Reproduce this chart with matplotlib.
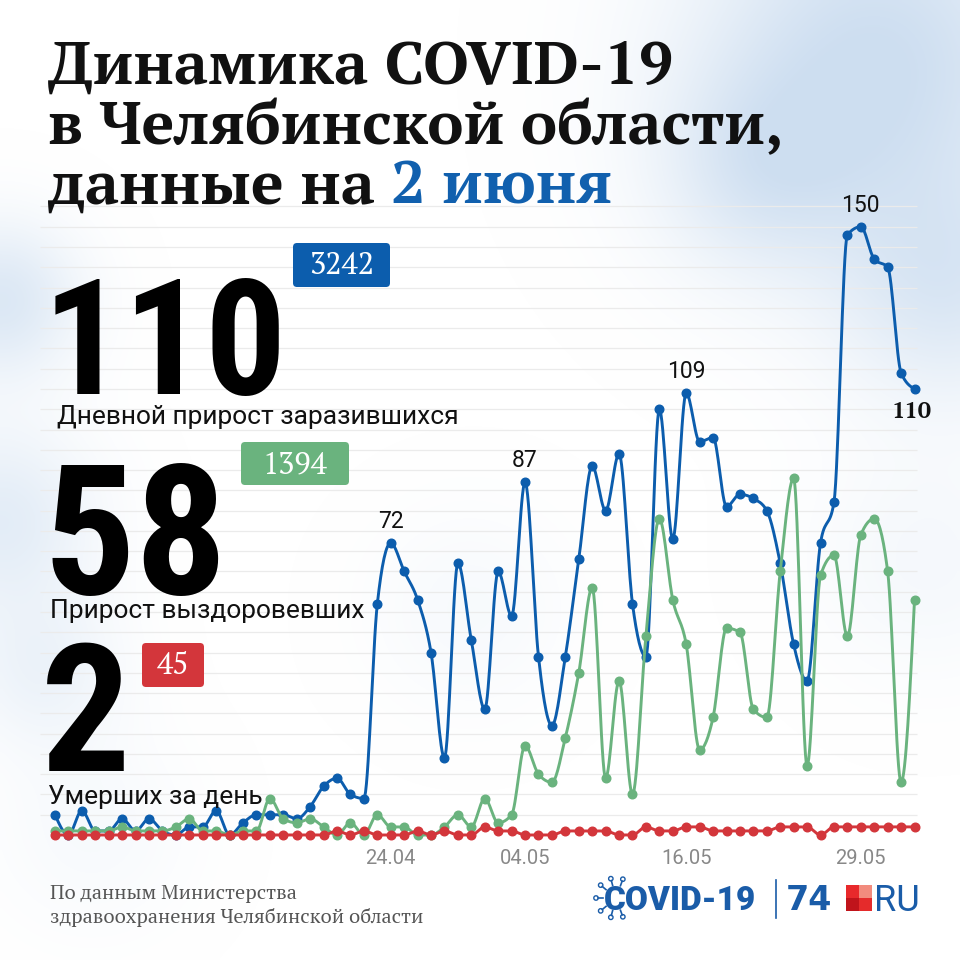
"""Daily COVID-19 dynamics in Chelyabinsk region, state on 2 June"""

import matplotlib
matplotlib.use("Agg")
import matplotlib.pyplot as plt
import matplotlib.patches as mpatches
import numpy as np
import pandas as pd

# Days from 30.03 to 02.06
dates = pd.date_range("2020-03-30", "2020-06-02", freq="D")
tick_labels = ["24.04", "04.05", "16.05", "29.05"]

infected = [5, 0, 6, 1, 1, 4, 1, 4, 1, 0, 2, 2, 6, 0, 3, 5, 5, 5, 4, 7,
            12, 14, 10, 9, 57, 72, 65, 58, 45, 19, 67, 48, 31, 65, 54, 87, 44, 27, 44, 68,
            91, 80, 94, 57, 44, 105, 73, 109, 97, 98, 81, 84, 83, 80, 67, 47, 38, 72, 82, 148,
            150, 142, 140, 114, 110]
recovered = [1, 1, 1, 1, 1, 2, 1, 1, 1, 2, 4, 1, 1, 0, 1, 1, 9, 4, 3, 4,
             2, 0, 3, 0, 5, 2, 2, 0, 0, 2, 5, 2, 9, 3, 5, 22, 15, 13, 24, 40,
             61, 14, 38, 10, 49, 78, 58, 47, 21, 29, 51, 50, 31, 29, 65, 88, 17, 64, 69, 49,
             74, 78, 65, 13, 58]
deaths = [0, 0, 0, 0, 0, 0, 0, 0, 0, 0, 0, 0, 0, 0, 0, 0, 0, 0, 0, 0,
          0, 1, 0, 1, 0, 0, 0, 1, 0, 1, 0, 0, 2, 1, 1, 0, 0, 0, 1, 1,
          1, 1, 0, 0, 2, 1, 1, 2, 2, 1, 1, 1, 1, 1, 2, 2, 2, 0, 2, 2,
          2, 2, 2, 2, 2]

peak_labels = {"24.04": "72", "04.05": "87", "16.05": "109", "29.05": "150"}
totals = {"infected": "3242", "recovered": "1394", "deaths": "45"}

BLUE = "#0c5dad"
GREEN = "#6ab37e"
RED = "#d3363b"

SLAB = ["PT Serif", "DejaVu Serif"]
SANS = ["Roboto", "DejaVu Sans"]
COND = ["Roboto Condensed", "DejaVu Sans"]

# pixel geometry of the chart (x of first day, px per day, y of zero, px per unit)
X0, DX, Y0, DY = 55, 13.43, 835, 4.055


def monotone(y, n=16):
    """Monotone cubic curve through the points (like d3.curveMonotoneX)"""
    y = np.asarray(y, dtype=float)
    d = np.diff(y)
    m = np.zeros_like(y)
    for k in range(1, len(y) - 1):
        s0, s1 = d[k - 1], d[k]
        p = (s0 + s1) / 2
        m[k] = (np.sign(s0) + np.sign(s1)) * min(abs(s0), abs(s1), 0.5 * abs(p))
    m[0] = (3 * d[0] - m[1]) / 2
    m[-1] = (3 * d[-1] - m[-2]) / 2
    xs, ys = [], []
    t = np.linspace(0, 1, n, endpoint=False)
    h00 = 2 * t**3 - 3 * t**2 + 1
    h10 = t**3 - 2 * t**2 + t
    h01 = -2 * t**3 + 3 * t**2
    h11 = t**3 - t**2
    for k in range(len(y) - 1):
        xs.append(k + t)
        ys.append(h00 * y[k] + h10 * m[k] + h01 * y[k + 1] + h11 * m[k + 1])
    xs.append([len(y) - 1])
    ys.append([y[-1]])
    return np.concatenate(xs), np.concatenate(ys)


fig = plt.figure(figsize=(9.6, 9.6), dpi=100, facecolor="white")

# soft light-blue clouds in the background
bg = fig.add_axes([0, 0, 1, 1], zorder=0)
gx, gy = np.meshgrid(np.linspace(0, 960, 240), np.linspace(0, 960, 240))
blobs = [(880, 60, 130, 1.0), (760, 170, 70, 0.5), (950, 290, 80, 0.6),
         (0, 300, 55, 0.7), (0, 520, 65, 0.55), (40, 670, 55, 0.35),
         (470, 610, 70, 0.15), (930, 560, 80, 0.2), (90, 830, 70, 0.15)]
field = np.zeros_like(gx)
for cx, cy, s, a in blobs:
    field += a * np.exp(-((gx - cx) ** 2 + (gy - cy) ** 2) / (2 * s**2))
field = np.clip(field, 0, 1)
rgba = np.zeros(gx.shape + (4,))
rgba[..., 0], rgba[..., 1], rgba[..., 2] = 0.76, 0.84, 0.93
rgba[..., 3] = 0.8 * field
bg.imshow(rgba, extent=(0, 960, 960, 0), interpolation="bilinear")
bg.set_xlim(0, 960)
bg.set_ylim(960, 0)
bg.axis("off")

# chart
ax = fig.add_axes([0, 0, 1, 1], zorder=1)
ax.patch.set_alpha(0)
ax.set_xlim(-X0 / DX, (960 - X0) / DX)
ax.set_ylim((Y0 - 960) / DY, Y0 / DY)
ax.axis("off")

days = np.arange(len(dates))
ax.hlines(np.arange(5, 160, 5), -1.1, len(dates) - 0.8, color="#ebebeb", lw=0.9, zorder=1)

for values, color, z in [(infected, BLUE, 3), (recovered, GREEN, 4), (deaths, RED, 5)]:
    cx, cy = monotone(values)
    ax.plot(cx, cy, color=color, lw=2.1, zorder=z, solid_capstyle="round")
    ax.plot(days, values, "o", color=color, ms=6.2, zorder=z)

labels = dates.strftime("%d.%m")
for lab in tick_labels:
    k = list(labels).index(lab)
    ax.text(k, (Y0 - 858) / DY, lab, ha="center", va="center", fontsize=14.5,
            color="#888888", family=SANS)
    ax.annotate(peak_labels[lab], (k, infected[k]), xytext=(0, 15.5), textcoords="offset points",
                ha="center", va="center", fontsize=16.5, color="#111111", family=SANS)
ax.annotate(str(infected[-1]), (days[-1], infected[-1]), xytext=(-2, -16.5),
            textcoords="offset points", ha="center", va="center", fontsize=17,
            weight="bold", color="#111111", family=SLAB)

# texts and badges in pixel coordinates
ov = fig.add_axes([0, 0, 1, 1], zorder=2)
ov.patch.set_alpha(0)
ov.set_xlim(0, 960)
ov.set_ylim(960, 0)
ov.axis("off")

title_kw = dict(fontsize=44, weight="bold", family=SLAB, color="#111111", va="baseline")
ov.text(48, 84, "Динамика COVID-19", **title_kw)
ov.text(48, 144, "в Челябинской области,", **title_kw)
t3 = ov.text(48, 204, "данные на ", **title_kw)
ov.annotate("2 июня", xy=(1, 0), xycoords=t3, va="bottom", ha="left", fontsize=44,
            weight="bold", family=SLAB, color="#1160ae")

big_kw = dict(weight="bold", family=COND, color="#000000", va="baseline")
ov.text(43, 394, str(infected[-1]), fontsize=116, **big_kw)
ov.text(43, 594, str(recovered[-1]), fontsize=131, **big_kw)
ov.text(41, 771, str(deaths[-1]), fontsize=128, **big_kw)

lab_kw = dict(fontsize=19, family=SANS, color="#111111", va="baseline")
ov.text(57, 424, "Дневной прирост заразившихся", **lab_kw)
ov.text(50, 618, "Прирост выздоровевших", **lab_kw)
ov.text(48, 804, "Умерших за день", **lab_kw)

for (x0, y0, x1, y1), color, key in [((293, 243, 390, 287), BLUE, "infected"),
                                      ((241, 442, 349, 485), GREEN, "recovered"),
                                      ((142, 643, 204, 687), RED, "deaths")]:
    ov.add_patch(mpatches.FancyBboxPatch((x0, y0), x1 - x0, y1 - y0,
                                         boxstyle="round,pad=0,rounding_size=4",
                                         fc=color, ec="none"))
    ov.text((x0 + x1) / 2, (y0 + y1) / 2 + 1, totals[key], ha="center", va="center",
            fontsize=22, color="white", family=SLAB)

# footer
foot_kw = dict(fontsize=14.5, family=SLAB, color="#555555", va="baseline")
ov.text(50, 899, "По данным Министерства", **foot_kw)
ov.text(50, 923, "здравоохранения Челябинской области", **foot_kw)

# logo
LOGO = "#1a5ca8"
cxl, cyl = 616, 898
for deg in [-70, -105, -140, 180, 140, 105, 70]:
    a = np.deg2rad(deg)
    ov.plot([cxl + 13 * np.cos(a), cxl + 18 * np.cos(a)],
            [cyl + 13 * np.sin(a), cyl + 18 * np.sin(a)], color=LOGO, lw=1.2)
    ov.add_patch(mpatches.Circle((cxl + 20 * np.cos(a), cyl + 20 * np.sin(a)), 2.2,
                                 fc="white", ec=LOGO, lw=1))
ov.text(604, 910, "COVID-19", fontsize=24, weight="black", family=SANS, color=LOGO, va="baseline")
ov.plot([776, 776], [880, 918], color=LOGO, lw=1.2)
ov.text(786, 910, "74", fontsize=24, weight="bold", family=["DejaVu Sans"], color=LOGO,
        va="baseline")
for (sx, sy), c in [((846, 885), "#e8292b"), ((859, 885), "#f28b7d"),
                    ((846, 898), "#c0141b"), ((859, 898), "#e52b2b")]:
    ov.add_patch(mpatches.Rectangle((sx, sy), 13, 13, fc=c, ec="none"))
ov.text(874, 911, "RU", fontsize=26, family=SANS, color=LOGO, va="baseline")

fig.savefig("out.png", dpi=100, facecolor="white")
